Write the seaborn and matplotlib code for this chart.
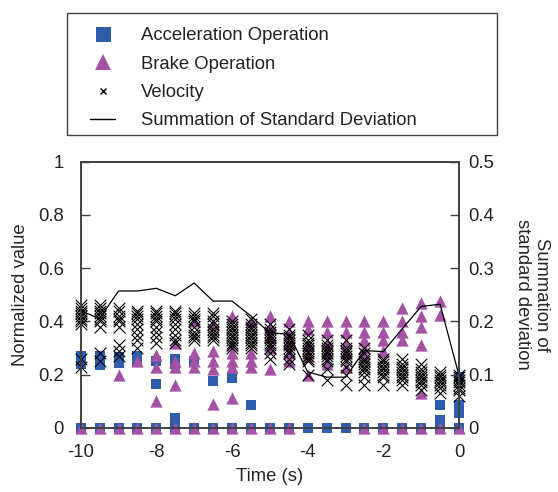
import pandas as pd
import seaborn as sns
import matplotlib.pyplot as plt
from matplotlib.lines import Line2D
from matplotlib.patches import Rectangle
from matplotlib.ticker import FuncFormatter

# time before event (s)
times = [-10.0, -9.5, -9.0, -8.5, -8.0, -7.5, -7.0, -6.5, -6.0, -5.5, -5.0,
         -4.5, -4.0, -3.5, -3.0, -2.5, -2.0, -1.5, -1.0, -0.5, 0.0]

# normalized values, one list per time step
accel = [
    [0, 0.27, 0.25, 0.24], [0, 0.27, 0.25, 0.235], [0, 0.265, 0.245], [0, 0.27, 0.25],
    [0, 0.25, 0.165], [0, 0.26, 0.24, 0.035], [0, 0.25], [0, 0.175], [0, 0.185],
    [0, 0.085], [0], [0], [0], [0], [0], [0], [0], [0], [0],
    [0, 0.085, 0.03], [0, 0.19, 0.085, 0.07, 0.055],
]
brake = [
    [0], [0], [0, 0.20], [0, 0.25], [0, 0.275, 0.23, 0.10],
    [0, 0.32, 0.25, 0.23, 0.16], [0, 0.40, 0.28, 0.25, 0.23],
    [0, 0.39, 0.29, 0.25, 0.22, 0.09], [0, 0.42, 0.31, 0.28, 0.25, 0.23, 0.11],
    [0, 0.40, 0.28, 0.25, 0.23], [0, 0.42, 0.38, 0.34, 0.30, 0.22],
    [0, 0.40, 0.36, 0.32, 0.28, 0.25], [0.40, 0.37, 0.31, 0.27, 0.20],
    [0.40, 0.36, 0.32, 0.28, 0.24], [0.40, 0.36, 0.32, 0.28, 0.23],
    [0, 0.40, 0.36, 0.33, 0.30, 0.27], [0, 0.40, 0.36, 0.33, 0.29],
    [0, 0.45, 0.40, 0.36, 0.33], [0, 0.47, 0.42, 0.38, 0.31, 0.13],
    [0, 0.475, 0.425], [0],
]
velocity = [
    [0.46, 0.45, 0.44, 0.43, 0.42, 0.41, 0.40, 0.39, 0.26, 0.23],
    [0.46, 0.45, 0.44, 0.43, 0.42, 0.41, 0.40, 0.38, 0.28, 0.25],
    [0.45, 0.44, 0.42, 0.41, 0.40, 0.38, 0.31, 0.29, 0.27],
    [0.44, 0.43, 0.42, 0.41, 0.39, 0.37, 0.35, 0.33, 0.30],
    [0.44, 0.43, 0.42, 0.41, 0.40, 0.38, 0.36, 0.34, 0.32],
    [0.44, 0.43, 0.42, 0.41, 0.39, 0.37, 0.35, 0.33, 0.32],
    [0.43, 0.42, 0.41, 0.40, 0.38, 0.36, 0.35, 0.34, 0.33],
    [0.43, 0.42, 0.40, 0.39, 0.37, 0.36, 0.35, 0.34, 0.33],
    [0.40, 0.39, 0.38, 0.37, 0.36, 0.35, 0.34, 0.33, 0.32, 0.31, 0.30],
    [0.41, 0.39, 0.38, 0.37, 0.36, 0.35, 0.34, 0.33, 0.32, 0.31, 0.30],
    [0.39, 0.37, 0.36, 0.35, 0.34, 0.33, 0.32, 0.31, 0.30, 0.28, 0.26],
    [0.37, 0.35, 0.34, 0.33, 0.32, 0.31, 0.30, 0.29, 0.28, 0.26, 0.24],
    [0.35, 0.33, 0.32, 0.31, 0.30, 0.29, 0.28, 0.27, 0.26, 0.25, 0.20],
    [0.33, 0.31, 0.30, 0.29, 0.28, 0.27, 0.26, 0.25, 0.22, 0.18],
    [0.33, 0.30, 0.29, 0.28, 0.27, 0.26, 0.25, 0.23, 0.20, 0.16],
    [0.30, 0.28, 0.26, 0.25, 0.24, 0.23, 0.22, 0.21, 0.19, 0.16],
    [0.26, 0.25, 0.24, 0.23, 0.22, 0.21, 0.20, 0.19, 0.16],
    [0.26, 0.24, 0.23, 0.22, 0.21, 0.20, 0.19, 0.18, 0.16],
    [0.24, 0.22, 0.21, 0.20, 0.19, 0.18, 0.17, 0.16, 0.14],
    [0.21, 0.20, 0.19, 0.18, 0.17, 0.16, 0.15, 0.13],
    [0.20, 0.19, 0.18, 0.17, 0.16, 0.15, 0.14, 0.12],
]
# summation of standard deviation (right axis)
std_sum = [0.22, 0.205, 0.257, 0.257, 0.262, 0.248, 0.272, 0.238, 0.238, 0.21, 0.178,
           0.176, 0.105, 0.095, 0.095, 0.145, 0.143, 0.186, 0.228, 0.232, 0.098]

labels = ["Acceleration Operation", "Brake Operation", "Velocity",
          "Summation of Standard Deviation"]

blue = "#2d5dab"
purple = "#a352a4"
dark = "#404040"


def long_form(vals):
    rows = [(t, v) for t, col in zip(times, vals) for v in col]
    return pd.DataFrame(rows, columns=["time", "value"])


sns.set_style("white")
plt.rcParams['font.family'] = ['Liberation Sans', 'DejaVu Sans']
plt.rcParams['axes.unicode_minus'] = False
plt.rcParams['text.color'] = '#222222'
fs = 13.3

fig, ax = plt.subplots(figsize=(5.58, 4.92), dpi=100)
fig.subplots_adjust(left=0.1446, right=0.8226, bottom=0.1307, top=0.6713)

sns.scatterplot(data=long_form(accel), x="time", y="value", marker="s", s=50,
                color=blue, linewidth=0, clip_on=False, ax=ax)
sns.scatterplot(data=long_form(brake), x="time", y="value", marker="^", s=78,
                color=purple, linewidth=0, clip_on=False, ax=ax)
sns.scatterplot(data=long_form(velocity), x="time", y="value", marker="x", s=70,
                color="black", linewidth=0.8, clip_on=False, ax=ax)

ax.set_xlim(-10, 0)
ax.set_ylim(0, 1)
ax.set_xticks([-10, -8, -6, -4, -2, 0])
ax.set_yticks([0, 0.2, 0.4, 0.6, 0.8, 1])
ax.yaxis.set_major_formatter(FuncFormatter(lambda v, p: f"{v:g}"))
ax.tick_params(axis='y', direction='in', length=6.5, width=1, color=dark,
               pad=12, labelsize=fs, labelcolor='#222222')
ax.tick_params(axis='x', direction='in', length=0, pad=12, labelsize=fs,
               labelcolor='#222222')
ax.set_xlabel("Time (s)", fontsize=fs, labelpad=4.5)
ax.set_ylabel("Normalized value", fontsize=fs)
ax.yaxis.set_label_coords(-0.136, 0.5)

ax2 = ax.twinx()
sns.lineplot(x=times, y=std_sum, color="black", linewidth=0.9, ax=ax2)
ax2.set_ylim(0, 0.5)
ax2.set_yticks([0, 0.1, 0.2, 0.3, 0.4, 0.5])
ax2.yaxis.set_major_formatter(FuncFormatter(lambda v, p: f"{v:g}"))
ax2.tick_params(axis='y', direction='in', length=6.5, width=1, color=dark,
                pad=7, labelsize=fs, labelcolor='#222222')
ax2.set_ylabel("Summation of\nstandard deviation", fontsize=fs, rotation=270,
               va='bottom', linespacing=1.15)
ax2.yaxis.set_label_coords(1.145, 0.5)

for a in (ax, ax2):
    for sp in a.spines.values():
        sp.set_visible(True)
        sp.set_color(dark)
        sp.set_linewidth(1.2)

handles = [
    Line2D([], [], ls='none', marker='s', ms=10.8, color=blue, mew=0),
    Line2D([], [], ls='none', marker='^', ms=11, color=purple, mew=0),
    Line2D([], [], ls='none', marker='x', ms=4.5, color='black', mew=1),
    Line2D([], [], color='black', lw=1),
]
fig.legend(handles, labels, loc='upper left', bbox_to_anchor=(0.1613, 0.945),
           frameon=False, fontsize=fs, borderpad=0, borderaxespad=0,
           handlelength=1.37, handletextpad=1.37, labelspacing=0.62)
fig.patches.append(Rectangle((0.1206, 0.7256), 0.770, 0.248, transform=fig.transFigure,
                             fill=False, edgecolor=dark, linewidth=1))

fig.savefig("out.png", dpi=100)
